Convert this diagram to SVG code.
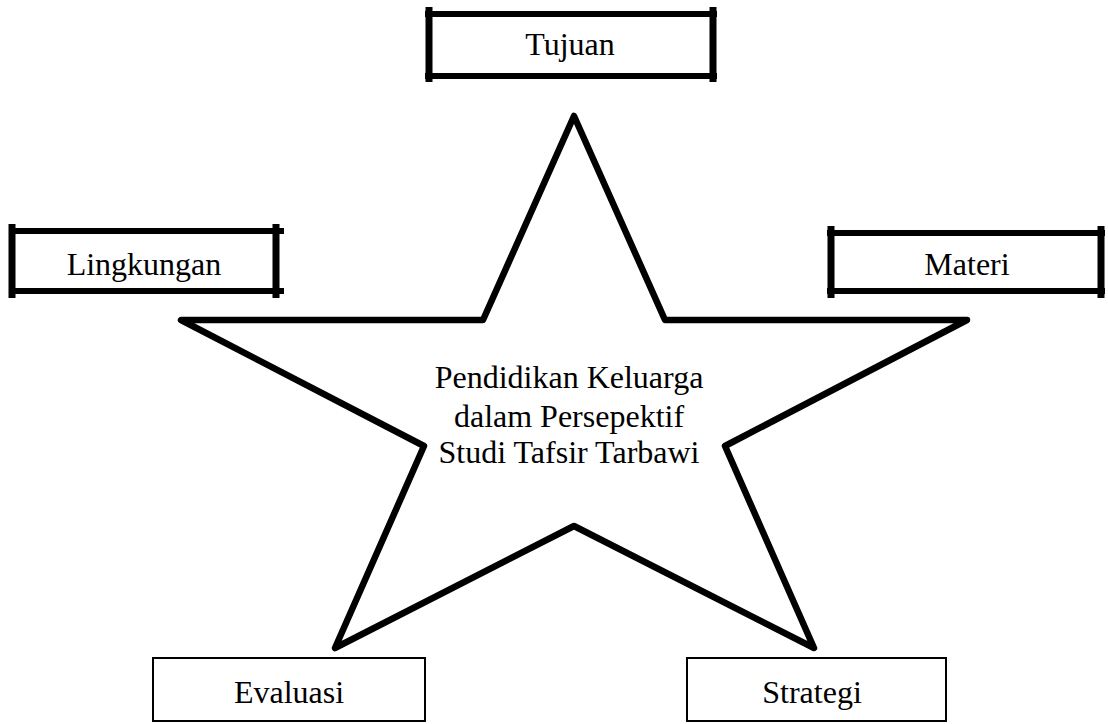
<svg xmlns="http://www.w3.org/2000/svg" width="1108" height="724" viewBox="0 0 1108 724">
<style>
.t{font-family:"Liberation Serif","Times New Roman",serif;font-size:32px;fill:#000;text-anchor:middle}
.h{stroke:#000;stroke-width:6;fill:none}
.v{stroke:#000;stroke-width:7;fill:none}
.thin{stroke:#000;stroke-width:2;fill:#fff}
.star{stroke:#000;stroke-width:6.5;fill:#fff;stroke-linejoin:round}
</style>
<rect width="1108" height="724" fill="#fff"/>
<g id="connectors"></g>
<g id="star">
<polygon class="star" points="574,116 665,320 967,320 725,446 814,648 574,526 335,648 424,446 181,320 483,320"/>
<text class="t" x="569" y="388">Pendidikan Keluarga</text>
<text class="t" x="569" y="427">dalam Persepektif</text>
<text class="t" x="569" y="463">Studi Tafsir Tarbawi</text>
</g>
<g id="tujuan">
<path class="h" d="M425,14H717M425,76H717"/>
<path class="v" d="M429,7V82M713,7V82"/>
<text class="t" x="570" y="55">Tujuan</text>
</g>
<g id="lingkungan">
<path class="h" d="M9,231H284M9,291H284"/>
<path class="v" d="M12,224V298M276,224V298"/>
<text class="t" x="144" y="275">Lingkungan</text>
</g>
<g id="materi">
<path class="h" d="M827,233H1105M827,291H1105"/>
<path class="v" d="M831,226V298M1101,226V298"/>
<text class="t" x="967" y="275">Materi</text>
</g>
<g id="evaluasi">
<rect class="thin" x="153" y="658" width="272" height="63"/>
<text class="t" x="289" y="703">Evaluasi</text>
</g>
<g id="strategi">
<rect class="thin" x="687" y="658" width="259" height="63"/>
<text class="t" x="812" y="703">Strategi</text>
</g>
</svg>
